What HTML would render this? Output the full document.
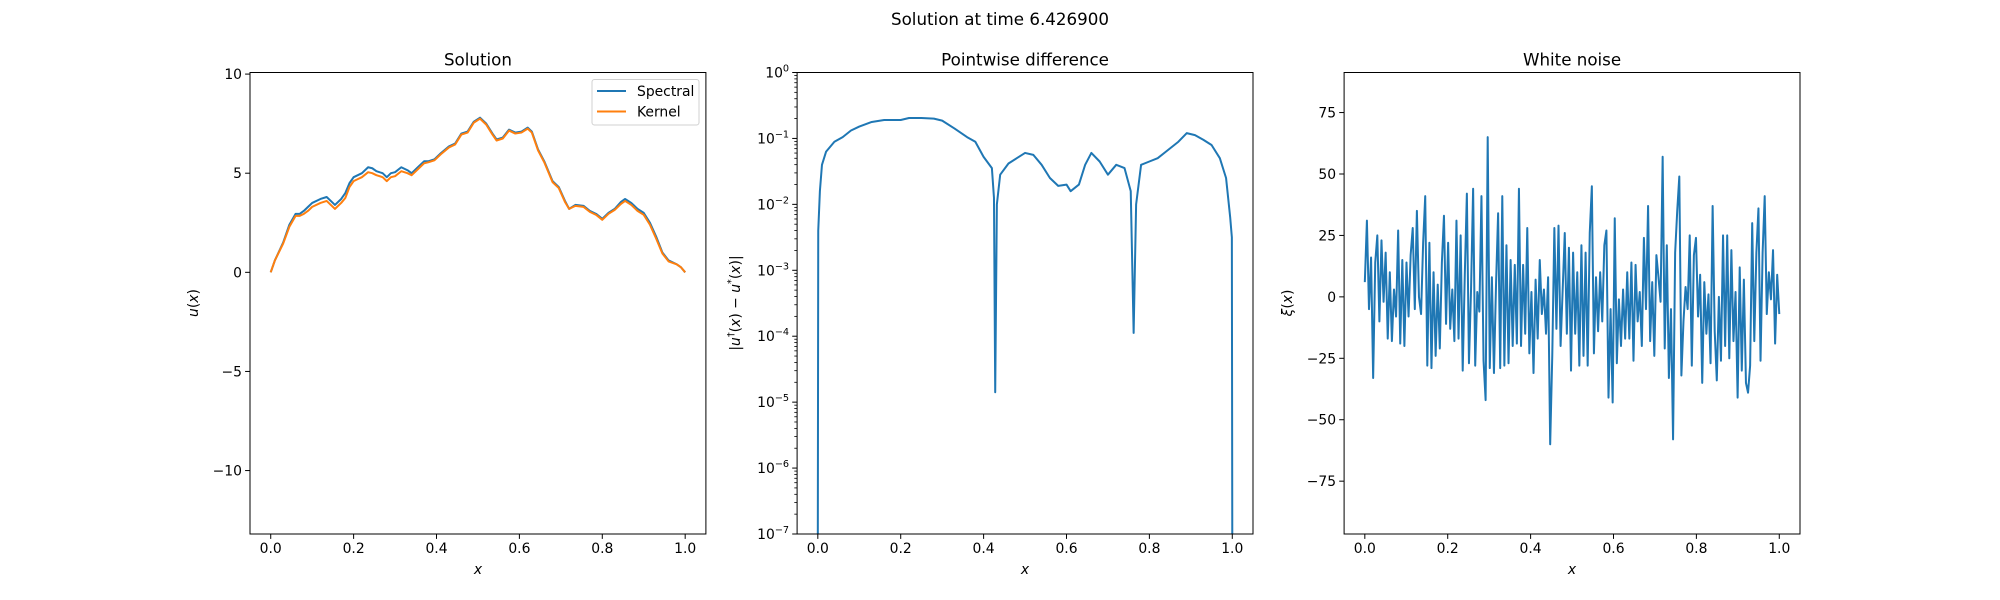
<!DOCTYPE html>
<html><head><meta charset="utf-8">
<style>
html,body{margin:0;padding:0;background:#fff;}
svg{display:block;font-family:"DejaVu Sans","Liberation Sans",sans-serif;}
</style></head>
<body>
<svg id="fig" width="2000" height="600" viewBox="0 0 2000 600" xmlns="http://www.w3.org/2000/svg">
<rect width="2000" height="600" fill="#fff"/>
<text x="1000" y="25" font-size="16.7" text-anchor="middle">Solution at time 6.426900</text>
</svg>
<script>
// ---------- data ----------
const solX = [0,0.01,0.03,0.045,0.06,0.07,0.08,0.09,0.1,0.12,0.135,0.145,0.155,0.17,0.18,0.19,0.2,0.21,0.22,0.235,0.245,0.255,0.27,0.28,0.29,0.3,0.315,0.33,0.34,0.355,0.37,0.38,0.395,0.41,0.43,0.445,0.46,0.475,0.49,0.505,0.52,0.535,0.545,0.56,0.575,0.59,0.605,0.62,0.63,0.645,0.66,0.68,0.695,0.71,0.72,0.735,0.755,0.77,0.785,0.8,0.815,0.83,0.845,0.855,0.87,0.885,0.9,0.915,0.93,0.945,0.96,0.98,0.99,1.0];
const spectralY = [0,0.6,1.5,2.4,2.95,2.95,3.1,3.3,3.5,3.7,3.8,3.6,3.4,3.7,4.0,4.5,4.8,4.9,5.0,5.3,5.25,5.1,5.0,4.8,5.0,5.05,5.3,5.15,5.0,5.3,5.6,5.6,5.7,6.0,6.35,6.5,7.0,7.1,7.6,7.8,7.5,7.0,6.7,6.8,7.2,7.05,7.1,7.3,7.1,6.2,5.6,4.6,4.3,3.6,3.2,3.4,3.35,3.1,2.95,2.7,3.0,3.2,3.55,3.7,3.5,3.2,3.0,2.5,1.8,1.0,0.6,0.4,0.25,0];
const kernelY = [0,0.6,1.45,2.3,2.85,2.85,2.95,3.1,3.3,3.5,3.6,3.4,3.2,3.5,3.75,4.3,4.6,4.7,4.8,5.05,5.0,4.9,4.8,4.6,4.8,4.85,5.1,5.0,4.9,5.2,5.5,5.55,5.65,5.95,6.3,6.45,6.95,7.05,7.55,7.75,7.45,6.95,6.65,6.75,7.15,7.0,7.05,7.25,7.05,6.15,5.55,4.55,4.25,3.55,3.2,3.35,3.3,3.05,2.9,2.65,2.95,3.15,3.45,3.6,3.4,3.1,2.9,2.4,1.7,0.95,0.55,0.4,0.25,0];
const diffX = [0,0.001,0.005,0.01,0.02,0.04,0.06,0.08,0.1,0.13,0.16,0.2,0.22,0.25,0.28,0.3,0.33,0.36,0.38,0.4,0.42,0.425,0.428,0.432,0.44,0.46,0.48,0.5,0.52,0.54,0.56,0.58,0.6,0.61,0.63,0.645,0.66,0.68,0.7,0.72,0.74,0.755,0.762,0.768,0.78,0.8,0.82,0.84,0.87,0.89,0.91,0.93,0.95,0.97,0.985,0.995,0.999,1.0];
const diffLog10 = [-7,-2.4,-1.8,-1.4,-1.2,-1.05,-0.98,-0.88,-0.82,-0.75,-0.72,-0.72,-0.69,-0.69,-0.7,-0.73,-0.85,-0.98,-1.05,-1.28,-1.45,-1.9,-4.85,-2.0,-1.55,-1.38,-1.3,-1.22,-1.25,-1.4,-1.6,-1.72,-1.7,-1.8,-1.7,-1.4,-1.22,-1.35,-1.55,-1.4,-1.45,-1.8,-3.95,-2.0,-1.4,-1.35,-1.3,-1.2,-1.05,-0.92,-0.95,-1.02,-1.1,-1.3,-1.6,-2.2,-2.5,-7];
const noiseY = [6,31,-5,16,-33,14,25,-10,23,-2,18,-17,10,-18,3,-8,27,-19,15,-20,14,-8,17,28,-5,35,0,-7,22,41,-28,22,-29,10,-24,5,-21,14,33,-11,22,-13,3,-18,31,-17,25,-30,9,42,-27,3,44,-28,2,-6,41,-26,-42,65,-29,8,-31,5,34,-29,41,-28,21,-27,15,-20,13,-19,44,-20,13,-15,28,-23,2,-31,7,-17,15,-7,3,-15,8,-60,-24,28,-13,29,-20,3,26,-15,20,-30,18,-15,10,-28,21,-24,18,-28,26,45,-23,8,-14,10,-10,21,27,-41,-5,-43,32,-27,-1,-20,3,-17,10,-17,14,-26,13,-10,2,-20,24,-5,37,-18,6,-24,17,8,-2,57,-21,21,-33,-5,-58,18,35,49,-32,-10,4,-5,25,-28,17,24,-8,9,-35,6,-15,1,-27,37,-14,-34,0,-26,25,-20,25,-25,19,-18,2,-41,12,-30,7,-35,-39,-28,30,-18,18,36,-26,18,41,-7,10,-1,19,-19,9,-7];
const xTicks = [0,0.2,0.4,0.6,0.8,1.0];
const xTickLabels = ["0.0","0.2","0.4","0.6","0.8","1.0"];
const solYTicks = [-10,-5,0,5,10];
const solYTickLabels = ["\u221210","\u22125","0","5","10"];
const noiseYTicks = [-75,-50,-25,0,25,50,75];
const noiseYTickLabels = ["\u221275","\u221250","\u221225","0","25","50","75"];
const logDecades = [-7,-6,-5,-4,-3,-2,-1,0];

const NS="http://www.w3.org/2000/svg";
const svg=document.getElementById('fig');
const BLUE="#1f77b4", ORANGE="#ff7f0e";
function el(tag,attrs,parent){const e=document.createElementNS(NS,tag);for(const k in attrs)e.setAttribute(k,attrs[k]);(parent||svg).appendChild(e);return e;}
const TOP=72.5,BOT=534;
const lefts=[250,797.1,1344.1], W=455.9;

function makeAxes(i,ymin,ymax,logy,name){
  const L=lefts[i], R=L+W;
  const g=el('g',{});
  
  
  const sx=v=>L+(v+0.05)/1.1*W;
  const sy=logy? v=>BOT-(v-ymin)/(ymax-ymin)*(BOT-TOP) : v=>BOT-(v-ymin)/(ymax-ymin)*(BOT-TOP);
  return {g,L,R,sx,sy};
}
function frame(ax){
  const f=el('rect',{x:ax.L,y:TOP,width:W,height:BOT-TOP,fill:'none',stroke:'#000','stroke-width':1},ax.g);
  
  
}
function xAxis(ax){
  xTicks.forEach((t,k)=>{
    const x=ax.sx(t);
    el('line',{x1:x,x2:x,y1:BOT,y2:BOT+4.9,stroke:'#000','stroke-width':1},ax.g);
    const tx=el('text',{x:x,y:BOT+19,'font-size':13.9,'text-anchor':'middle'},ax.g);
    tx.textContent=xTickLabels[k];
    
    
  });
  const xl=el('text',{x:(ax.L+ax.R)/2,y:574,'font-size':13.9,'font-style':'italic','text-anchor':'middle'},ax.g);
  xl.textContent='x';
  
  
}
function yAxisLinear(ax,ticks,labels){
  ticks.forEach((t,k)=>{
    const y=ax.sy(t);
    el('line',{x1:ax.L-4.9,x2:ax.L,y1:y,y2:y,stroke:'#000','stroke-width':1},ax.g);
    const tx=el('text',{x:ax.L-8,y:y+5,'font-size':13.9,'text-anchor':'end'},ax.g);
    tx.textContent=labels[k];
    
    
  });
}
function yTitle(x,y,html,name){
  const t=el('text',{x:0,y:0,'font-size':13.9,'text-anchor':'middle',transform:`translate(${x},${y}) rotate(-90)`});
  t.innerHTML=html;
  
  
}
function axTitle(ax,txt){
  const t=el('text',{x:(ax.L+ax.R)/2,y:TOP-7,'font-size':16.7,'text-anchor':'middle'},ax.g);
  t.textContent=txt;
  
  
}
function line(ax,xs,ys,color,name){
  const d=xs.map((x,k)=>(k?'L':'M')+ax.sx(x).toFixed(2)+','+ax.sy(ys[k]).toFixed(2)).join('');
  const p=el('path',{d,fill:'none',stroke:color,'stroke-width':2,'stroke-linejoin':'round'},ax.g);
  
  
}

// Panel 1
const a1=makeAxes(0,-13.2,10.08,false,'solution-panel');
line(a1,solX,spectralY,BLUE,'spectral-line');
line(a1,solX,kernelY,ORANGE,'kernel-line');
frame(a1);xAxis(a1);yAxisLinear(a1,solYTicks,solYTickLabels);axTitle(a1,'Solution');
yTitle(198,303,'<tspan font-style="italic">u</tspan>(<tspan font-style="italic">x</tspan>)','y-axis-title-u');
const lg=el('g',{},a1.g);


el('rect',{x:592,y:79.5,width:107,height:45.5,rx:2.5,fill:'#fff',stroke:'#d0d0d0','stroke-width':1},lg);
el('line',{x1:597,x2:626,y1:91,y2:91,stroke:BLUE,'stroke-width':2},lg);
el('line',{x1:597,x2:626,y1:111.5,y2:111.5,stroke:ORANGE,'stroke-width':2},lg);
const l1=el('text',{x:637,y:96,'font-size':13.9},lg);l1.textContent='Spectral';


const l2=el('text',{x:637,y:116.5,'font-size':13.9},lg);l2.textContent='Kernel';



// Panel 2 (log)
const a2=makeAxes(1,-7,0,true,'difference-panel');
const x2=diffX, y2=diffLog10;
line(a2,x2,y2,BLUE,'difference-line');
frame(a2);xAxis(a2);axTitle(a2,'Pointwise difference');
logDecades.forEach(d=>{
  const y=a2.sy(d);
  el('line',{x1:a2.L-4.9,x2:a2.L,y1:y,y2:y,stroke:'#000','stroke-width':1},a2.g);
  const t=el('text',{x:a2.L-8,y:y+5,'font-size':13.9,'text-anchor':'end'},a2.g);
  t.innerHTML='10<tspan font-size="9.7" dy="-6">'+(d<0?'\u2212'+(-d):d)+'</tspan>';
  
  
  if(d<0){for(let m=2;m<=9;m++){const ym=a2.sy(d+Math.log10(m));
    el('line',{x1:a2.L-2.8,x2:a2.L,y1:ym,y2:ym,stroke:'#000','stroke-width':0.8},a2.g);}}
});
yTitle(740,303,'|<tspan font-style="italic">u</tspan><tspan font-size="9.7" dy="-6">\u2020</tspan><tspan dy="6">(</tspan><tspan font-style="italic">x</tspan>) \u2212 <tspan font-style="italic">u</tspan><tspan font-size="9.7" dy="-6">*</tspan><tspan dy="6">(</tspan><tspan font-style="italic">x</tspan>)|','y-axis-title-diff');

// Panel 3
const a3=makeAxes(2,-96.5,91.3,false,'noise-panel');
const noiseX=noiseY.map((_,k)=>k/(noiseY.length-1));
line(a3,noiseX,noiseY,BLUE,'noise-line');
frame(a3);xAxis(a3);yAxisLinear(a3,noiseYTicks,noiseYTickLabels);axTitle(a3,'White noise');
yTitle(1292,303,'<tspan font-style="italic">\u03be</tspan>(<tspan font-style="italic">x</tspan>)','y-axis-title-xi');
</script>
</body></html>
